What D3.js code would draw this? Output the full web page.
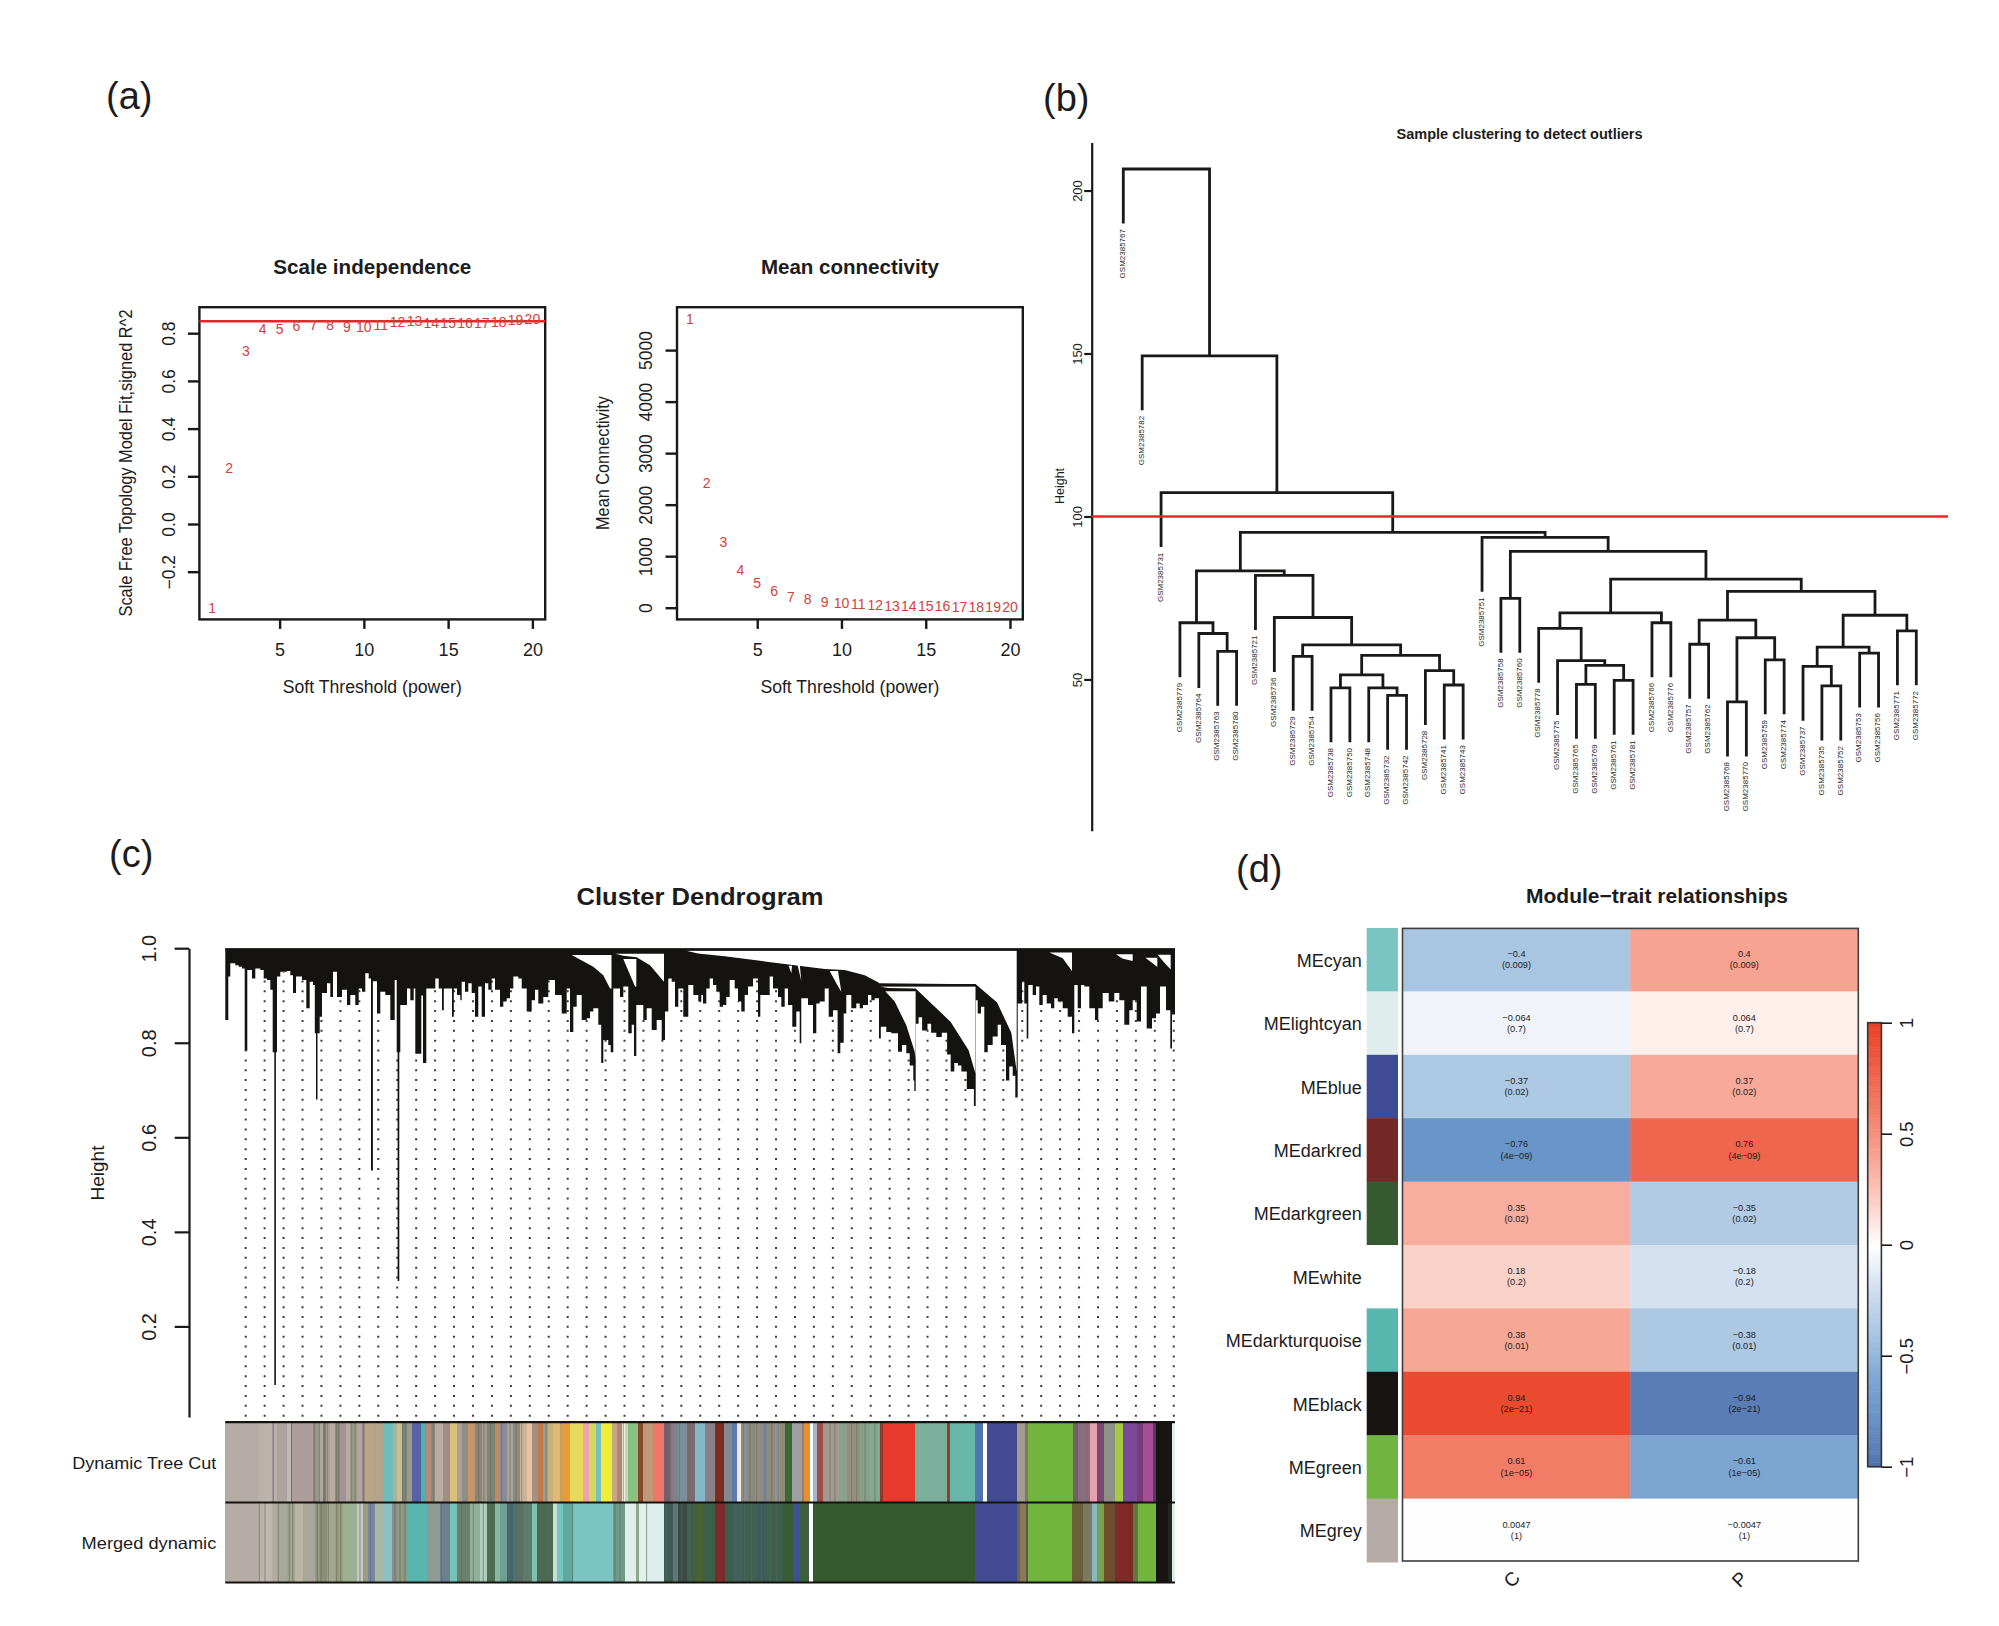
<!DOCTYPE html>
<html><head><meta charset="utf-8">
<script src="https://d3js.org/d3.v7.min.js"></script>
<style>html,body{margin:0;padding:0;background:#fff}svg{display:block}text{font-family:"Liberation Sans",Arial,sans-serif;fill:#1c1c1c}</style>
</head><body><svg id="fig" width="1999" height="1626"></svg>
<script>
// ---------- panel (a) ----------
const powers = d3.range(1, 21);
const scaleFit = [-0.351,0.233,0.725,0.818,0.816,0.831,0.833,0.833,0.825,0.827,0.833,0.849,0.853,0.844,0.845,0.844,0.844,0.848,0.855,0.858];
const meanK = [5598,2416,1271,741,471,320,210,160,118,93,76,59,42,34,25,25,17,17,8,8];
const fitCut = 0.85;
// ---------- panel (b): nested [height, left, right], leaves are sample suffixes ----------
const sampleTree = [206.6,"767",[149.3,"782",[107.3,"731",[95.1,
  [83.3,
    [67.4,"779",[64.1,"764",[58.6,"763","780"]]],
    [81.9,"721",[69,"736",[60.6,
      [57.1,"729","754"],
      [57.4,
        [51.4,[47.4,"738","750"],[47.4,"748",[45.1,"732","742"]]],
        [52.7,"728",[48.3,"741","743"]]]]]]],
  [93.6,"751",[89.3,
    [74.9,"758","760"],
    [80.8,
      [70.4,
        [65.7,"778",[55.8,"775",[54.3,[48.5,"765","769"],[49.7,"761","781"]]]],
        [67.4,"766","776"]],
      [77,
        [68.2,[60.8,"757","762"],[62.8,[43.1,"768","770"],[56,"759","774"]]],
        [69.7,
          [59.9,[54,"737",[48,"735","752"]],[58.1,"753","756"]],
          [64.9,"771","772"]]]]]]]]]];
const leafHang = 16.7;
const sampleCut = 100;
const sampleTicks = [50,100,150,200];
// ---------- panel (c): gene dendrogram outline as [gene position, lowest height] ----------
const dendroFloor = [[0,.848],[3,.94],[5,.968],[10,.964],[13.4,.961],[16.7,.957],[19.4,.783],[22,.954],[26.7,.936],[30,.957],[35,.954],[38.4,.936],[41.7,.933],[45,.912],[47.4,.78],[49,.076],[50.6,.78],[51.7,.94],[55,.95],[61.7,.952],[65,.943],[67.7,.905],[70.7,.94],[76.7,.933],[81,.873],[84.4,.929],[87.7,.922],[89.5,.82],[90.7,.68],[92.2,.82],[94.4,.855],[96.7,.905],[101.7,.926],[105,.897],[107.7,.95],[111.7,.897],[116.7,.912],[121.7,.88],[125,.901],[130,.88],[133.4,.915],[136.7,.908],[140,.947],[143.4,.936],[145.7,.53],[147.6,.93],[151.7,.862],[155,.908],[160,.901],[165,.848],[169.4,.933],[171.4,.78],[172.3,.296],[174,.78],[175,.88],[181.7,.915],[185,.89],[188.4,.915],[190,.777],[196,.9],[197.7,.757],[201,.915],[210,.936],[213.4,.915],[216.7,.869],[218.5,.915],[226.7,.855],[228.5,.915],[231.7,.901],[235,.89],[236.4,.929],[239.7,.908],[243,.926],[246.4,.905],[249.7,.855],[253,.919],[256.4,.855],[259.7,.926],[263,.912],[266.4,.936],[269.7,.912],[274.7,.876],[278,.887],[281.4,.894],[284.7,.915],[288,.94],[293,.936],[296.4,.915],[301.4,.866],[306.4,.89],[309.7,.912],[313,.883],[318,.897],[323,.933],[329.7,.901],[336.4,.862],[341.4,.915],[344.7,.823],[348,.876],[351.4,.901],[356.4,.848],[361.4,.852],[364.7,.866],[368,.873],[373,.838],[375.9,.757],[378,.806],[383,.795],[385.4,.78],[388,.915],[394.7,.897],[398,.919],[403,.82],[406.4,.838],[408.7,.772],[411,.88],[418,.848],[421.4,.873],[426.4,.827],[431.4,.848],[436.4,.806],[439.7,.866],[443,.936],[446.4,.929],[449.7,.876],[453,.915],[458,.855],[463,.922],[468,.901],[473,.887],[476,.901],[477.7,.883],[481,.915],[484.4,.936],[487.7,.922],[491,.908],[494.4,.876],[497.7,.88],[501,.897],[504.4,.933],[509.4,.915],[512.7,.887],[516,.866],[519.4,.901],[522.7,.919],[527.7,.936],[532.7,.855],[535,.901],[544.4,.94],[547.7,.915],[552.7,.897],[556,.876],[559.4,.915],[562.7,.88],[567,.834],[571,.866],[574.4,.799],[576,.894],[582.7,.88],[587.7,.82],[591,.883],[594.4,.887],[599.4,.915],[603.4,.855],[607.7,.869],[612.3,.778],[615,.8],[618.4,.862],[621,.901],[626,.873],[631,.883],[634.4,.873],[637.7,.88],[642.7,.901],[646,.89],[649.4,.894],[653.7,.809],[655.5,.834],[661,.823],[666,.82],[672.7,.781],[676.7,.795],[681,.778],[684.4,.752],[688,.72],[689,.698],
 [690.4,.84],[693.3,.854],[696.8,.826],[702.2,.84],[705.8,.821],[711,.812],[716.5,.821],[721.8,.775],[725.4,.739],[729,.757],[732.6,.752],[736.1,.739],[741.5,.702],[745,.702],[748.6,.666],
 [750.4,.89],[752.4,.862],[755.7,.876],[759,.78],[762.4,.795],[767.4,.813],[772.4,.838],[775.7,.795],[780.7,.72],[784,.75],[787.4,.73],[790,.684],
 [792.4,.883],[796.7,.929],[799,.883],[801.4,.809],[803,.922],[807.4,.901],[810.7,.919],[814,.88],[817.4,.901],[821.4,.883],[825.7,.873],[829,.894],[832.4,.887],[837.4,.873],[842.4,.855],[846.7,.82],[849,.922],[852.4,.873],[855.7,.922],[859,.919],[864,.873],[869.7,.848],[873,.873],[877.4,.905],[883.4,.887],[889,.905],[894,.89],[899,.838],[904,.869],[907.4,.89],[911.4,.845],[915.7,.919],[921.4,.83],[926.7,.852],[930.7,.862],[934.7,.919],[940.7,.869],[945,.788],[946.7,.86],[949.7,.86]];
const dendroGaps = [
 [[346.4,.9856],[386.2,.9856],[386.2,.915],[384.7,.915],[378,.943],[368,.961]],
 [[398,.977],[411,.977],[411,.919],[409.7,.919]],
 [[390,.988],[438.7,.988],[438.7,.929],[424.7,.964],[411.4,.981],[398,.984]],
 [[460,.995],[791.4,.995],[791.4,.739],[786,.821],[771.8,.885],[750.5,.924],[654,.926],[652.7,.928],[639.4,.943],[619.4,.954],[599.4,.956],[539.4,.972],[499.4,.983],[472.7,.989]],
 [[654.5,.919],[750.2,.919],[750.2,.735],[743.3,.784],[725.4,.844],[690.6,.914],[662.7,.916]],
 [[660,.909],[690.3,.909],[690.3,.766],[689.4,.781],[681,.837],[669.4,.887]],
 [[563.4,.963],[566.7,.963],[566,.947]],
 [[572,.967],[574.4,.967],[576,.93]],
 [[604.4,.952],[612.7,.952],[616,.908],[611,.926]],
 [[824,.991],[846.7,.991],[846.7,.952],[837.4,.979]],
 [[890.7,.987],[907.4,.987],[907.4,.973],[897,.978]],
 [[920,.98],[932,.98],[932,.96],[925,.972]],
 [[932.4,.986],[945.4,.986],[945.4,.955],[938,.972]]];
const dendroLinks = [[0,949.7,.997],[652,750.5,.922],[660,690.6,.912]];
const heightTicks = [.2,.4,.6,.8,1];
const guideCount = 50;
const cutEnds = [115,130,155,162,170,200,213,217,280,287,300,310,318,330,345,360,378,390,410,425,435,462,490,518,530,545,562,575,603,618,632,645,670,690,712,727,745,765,785,800,825,840,860,880,900,920,935,955,970,985,1000,1020,1030,1050,1088,1108,1128,1143,1175,1190,1205,1215,1225,1255,1270,1300,1333,1350,1365,1375,1400,1425,1455,1485,1512,1535,1550,1562,1580,1605,1625,1645,1665,1680,1695,1715,1745,1752,1770,1778,1790,1810,1860,1880,1920,1950,1980,1988,2085,2180,2190,2265,2290,2302,2390,2415,2425,2558,2575,2610,2630,2652,2685,2710,2750,2770,2798,2808,2855,2865];
const cutColors = ["#b6aca7","#b9b0aa","#bcb4ac","#a99ba6","#b9b0a6","#ada2a0","#c1b9b6","#847f7a","#ae9d9c","#8e8a99","#9a9a86","#b3a89f","#7f8270","#a8a093","#b8ac9f","#8f8c7e","#a4919a","#b8ac9f","#9c9a8a","#b5a5a2","#9a8c8a","#bca487","#b3a48c","#6dbcb9","#a9b49b","#c9bc90","#7c8a7a","#9a9a8a","#5563a4","#4fb0ad","#b48a78","#8a8a80","#b7aca0","#9e8e86","#d8c17a","#b0a094","#8e9088","#c8956b","#8a8578","#a49c8c","#7c8478","#c18a60","#8b8a98","#a6a59c","#8d8a80","#c9b496","#e8c3a0","#a48f84","#c07a50","#9aa090","#c9b080","#dfba70","#c8a060","#ee9a35","#e6d95c","#f0a2a6","#d4d860","#78bfc0","#f0ec38","#c8a884","#b08870","#f1ede0","#c0d8b0","#8cc080","#87492c","#c09a78","#ee7768","#74606c","#8a7a88","#6f8a90","#7a9098","#7b6a70","#84b8c8","#8a8088","#7d2c22","#848a90","#5b7ab0","#f0e8d8","#8c8f94","#8a8a7c","#928c80","#7f8c94","#8f8a7a","#8c9494","#908878","#3a6b35","#a0a0a0","#8d8378","#ea9030","#ffffff","#9fb8cc","#a04f48","#a09a90","#8aa090","#94907e","#86a08c","#84a890","#8c3a30","#e8392e","#7db09c","#923d38","#66b8a8","#4f75b0","#ffffff","#414a92","#a39a90","#7d7a60","#71b53e","#6c6460","#8a6e80","#e8a0b0","#7a4a74","#8f9088","#a6ca42","#7a4a9a","#7a3c70","#a64f96","#5a3a60","#181412","#dceee8"];
const mergedEnds = [115,130,155,170,200,225,250,285,300,320,345,370,412,430,445,465,490,517,530,562,620,660,690,712,750,780,800,825,840,862,880,908,935,950,1000,1010,1030,1060,1178,1215,1248,1256,1276,1333,1360,1375,1400,1425,1450,1485,1515,1540,1570,1610,1635,1690,1718,1740,1768,1778,2265,2390,2400,2418,2425,2555,2590,2615,2630,2652,2685,2738,2755,2808,2845,2855,2865];
const mergedColors = ["#b6aca7","#bab3aa","#bdb8ae","#b2ab9f","#a9a79c","#a2a68e","#bab6a6","#a9a69b","#8f9a80","#8c8d78","#a3a78c","#9aa07c","#9db094","#c8c8c8","#999c80","#7a86a8","#a9b8a2","#8cc0c4","#86908a","#8e9a84","#57b7ae","#8f9a94","#6e8090","#74c4bc","#6c8070","#90b09c","#b0ccbc","#4c6c54","#87b8a4","#70a090","#3f6870","#587068","#5f7a68","#7cc0b0","#4a6a54","#c8e0d4","#74c4c0","#5fa8a0","#7bc4c4","#6e9a88","#dff0ec","#8ea88e","#e4f0ec","#dceeec","#3e5c52","#60757c","#3a4a44","#3e5f4e","#49622f","#3c5f48","#7d2c2a","#3a5f4e","#44605c","#3f6050","#3d5a58","#3c6050","#3a5c32","#3f4f90","#3a6040","#ffffff","#365a30","#414a92","#6c6450","#8a7a5c","#5a5a40","#71b53e","#6a5f38","#7a7a60","#8ab8c0","#77a050","#6e4f2c","#7f2a28","#5f7a3a","#71b53e","#181412","#1e2820","#e0f0e0"];
// thin stripes that sit over the runs above
const cutHairlines = [160,215,283,298,312,322,350,356,395,405,430,548,556,640,776,792,812,845,870,888,905,978,1210,1352,1378,1408,1570,1590,1610,1635,1655,1675,1830,1845,1895,1910,1935,1965,2600];
const mergedHairlines = [118,135,175,208,218,292,303,325,350,362,420,452,525,540,555,665,725,760,790,815,870,892,960,985,1058,1185,1200,1280,1340,1385,1410,1575,1595,1625,1650,1670];

// ---------- panel (d) ----------
const modules = ["MEcyan","MElightcyan","MEblue","MEdarkred","MEdarkgreen","MEwhite","MEdarkturquoise","MEblack","MEgreen","MEgrey"];
const moduleColors = ["#7bc4c4","#dfeeec","#3f4c95","#732826","#365a30","#ffffff","#57b7ae","#181412","#6fb53f","#b6aca7"];
const traits = ["C","P"];
const corrC = [-0.4,-0.064,-0.37,-0.76,0.35,0.18,0.38,0.94,0.61,0.0047];
const corrP = [0.4,0.064,0.37,0.76,-0.35,-0.18,-0.38,-0.94,-0.61,-0.0047];
const pvals = ["0.009","0.7","0.02","4e\u221209","0.02","0.2","0.01","2e\u221221","1e\u221205","1"];
const heatStops = [-1,-0.94,-0.76,-0.61,-0.4,-0.18,0,0.18,0.4,0.61,0.76,0.94,1];
const heatColors = ["#4f70ae","#5a7db5","#6a95c8","#7ca5d2","#a8c5e2","#d4e1f1","#ffffff","#fbd2c8","#f7a391","#f17d66","#f0654d","#eb4a31","#e83f28"];
const barTicks = [-1,-0.5,0,0.5,1];

const svg = d3.select("#fig");
const label = (t,x,y,o={})=>{
  const e = svg.append("text").text(t).attr("x",x).attr("y",y)
    .attr("font-size",o.size||16).attr("text-anchor",o.anchor||"middle");
  if(o.bold) e.attr("font-weight","bold");
  if(o.len) e.attr("textLength",o.len).attr("lengthAdjust","spacingAndGlyphs");
  if(o.rot!=null) e.attr("transform",`rotate(${o.rot},${x},${y})`);
  return e;
};
const ink="#1b1918";
function styleAxis(g,w,rotBase,size){
  g.selectAll("path.domain").attr("stroke",ink).attr("stroke-width",w);
  g.selectAll(".tick line").attr("stroke",ink).attr("stroke-width",w);
  g.selectAll("text").attr("font-size",size).attr("font-family",null).style("fill","#1c1c1c");
  if(rotBase!=null) g.selectAll("text").attr("x",0).attr("y",rotBase).attr("dy",0)
    .attr("text-anchor","middle").attr("transform","rotate(-90)");
}
// panel letters
[["(a)",106,109],["(b)",1043,111],["(c)",109,867],["(d)",1236,882]].forEach(d=>label(d[0],d[1],d[2],{size:38,anchor:"start"}));

// ---- (a)
function softPanel(cfg){
  const x=d3.scaleLinear().domain([0.24,20.76]).range([cfg.l,cfg.r]);
  const y=d3.scaleLinear().domain(cfg.yDom).range(cfg.yRange);
  const top=307.2,bot=619.4;
  svg.append("rect").attr("x",cfg.l).attr("y",top).attr("width",cfg.r-cfg.l).attr("height",bot-top).attr("fill","none").attr("stroke",ink).attr("stroke-width",2.4);
  const gx=svg.append("g").attr("transform",`translate(0,${bot})`).call(d3.axisBottom(x).tickValues([5,10,15,20]).tickSizeOuter(0).tickSize(9.5).tickPadding(14));
  gx.select("path.domain").remove(); styleAxis(gx,2.4,null,18);
  const gy=svg.append("g").attr("transform",`translate(${cfg.l},0)`).call(d3.axisLeft(y).tickValues(cfg.ticks).tickSize(11.5).tickFormat(cfg.fmt));
  gy.select("path.domain").remove(); styleAxis(gy,2.4,cfg.base,17.5);
  if(cfg.line!=null) svg.append("line").attr("x1",cfg.l).attr("x2",cfg.r).attr("y1",y(cfg.line)).attr("y2",y(cfg.line)).attr("stroke","#e8262a").attr("stroke-width",2.6);
  svg.append("g").selectAll("text").data(powers).join("text").text(d=>d)
    .attr("x",d=>x(d)).attr("y",(d,i)=>y(cfg.vals[i])).attr("dy",".36em").attr("text-anchor","middle")
    .attr("font-size",14).style("fill","#d4403a");
  label(cfg.title,(cfg.l+cfg.r)/2,274,{size:20.5,bold:true,len:cfg.titleLen});
  label("Soft Threshold (power)",(cfg.l+cfg.r)/2,693,{size:17.5,len:179});
  label(cfg.ylab,cfg.ylabX,463,{size:18,len:cfg.ylabLen,rot:-90});
}
softPanel({l:199.4,r:545.2,yDom:[-0.2,0.8],yRange:[571.7,333.2],ticks:[-0.2,0,0.2,0.4,0.6,0.8],fmt:d3.format(".1f"),vals:scaleFit,line:fitCut,base:-24.4,title:"Scale independence",titleLen:198,ylab:"Scale Free Topology Model Fit,signed R^2",ylabX:132,ylabLen:307});
softPanel({l:677,r:1022.8,yDom:[0,5000],yRange:[607.7,350.1],ticks:[0,1000,2000,3000,4000,5000],fmt:d3.format("d"),vals:meanK,line:null,base:-25,title:"Mean connectivity",titleLen:178,ylab:"Mean Connectivity",ylabX:609,ylabLen:134});

// ---- (b)
(function(){
  const root=d3.hierarchy(sampleTree,d=>Array.isArray(d)?d.slice(1):null);
  const leaves=root.leaves();
  const x=d3.scaleLinear().domain([0,leaves.length-1]).range([1123.3,1916.3]);
  const y=d3.scaleLinear().domain([3.6,214.7]).range([830.7,142.6]);
  leaves.forEach((l,i)=>l.px=x(i));
  root.eachAfter(n=>{ if(n.children) n.px=(n.children[0].px+n.children[1].px)/2; });
  const H=n=>n.children?n.data[0]:n.parent.data[0]-leafHang;
  const path=d3.path();
  root.descendants().filter(n=>n.children).forEach(n=>{
    const [a,b]=n.children, yy=y(n.data[0]);
    path.moveTo(a.px,y(H(a)));path.lineTo(a.px,yy);path.lineTo(b.px,yy);path.lineTo(b.px,y(H(b)));
  });
  svg.append("path").attr("d",path.toString()).attr("fill","none").attr("stroke",ink).attr("stroke-width",2.8);
  svg.append("g").selectAll("text").data(leaves).join("text").text(d=>"GSM2385"+d.data)
    .attr("transform",d=>`translate(${d.px-1},${y(H(d))+5.6}) rotate(-90)`)
    .attr("dy",".34em").attr("text-anchor","end").attr("font-size",8).style("fill","#262626");
  const g=svg.append("g").attr("transform","translate(1091.7,0)").call(d3.axisLeft(y).tickValues(sampleTicks).tickSize(7.5).tickSizeOuter(0));
  styleAxis(g,2.2,-9.7,13);
  svg.append("line").attr("x1",1091.7).attr("x2",1948).attr("y1",y(sampleCut)).attr("y2",y(sampleCut)).attr("stroke","#e8262a").attr("stroke-width",2.4);
  label("Height",1064,486,{size:12.5,rot:-90});
  label("Sample clustering to detect outliers",1519.5,139,{size:14,bold:true,len:246});
})();

// ---- (c)
(function(){
  const x=d3.scaleLinear().domain([0,949.7]).range([225.3,1175]);
  const y=d3.scaleLinear().domain([0.0086,1]).range([1416.9,948.2]);
  const floorAt=u=>dendroFloor[Math.max(0,d3.bisector(d=>d[0]).right(dendroFloor,u)-1)][1];
  // guide dots
  const cols=d3.range(guideCount).map(i=>20.4+i*18.94);
  svg.append("g").selectAll("line").data(cols).join("line")
    .attr("x1",x).attr("x2",x).attr("y1",1416.7).attr("y2",u=>y(floorAt(u)))
    .attr("stroke","#3a3a3a").attr("stroke-width",2).attr("stroke-dasharray","2 7.87");
  const area=d3.area().curve(d3.curveStepAfter).x(d=>x(d[0])).y0(y(1)).y1(d=>y(d[1]));
  svg.append("path").attr("d",area(dendroFloor)).attr("fill","#151311");
  const poly=d3.line().x(d=>x(d[0])).y(d=>y(d[1]));
  svg.append("g").selectAll("path").data(dendroGaps).join("path").attr("d",d=>poly(d)+"Z").attr("fill","#fff");
  svg.append("g").selectAll("line").data(dendroLinks).join("line")
    .attr("x1",d=>x(d[0])).attr("x2",d=>x(d[1])).attr("y1",d=>y(d[2])).attr("y2",d=>y(d[2]))
    .attr("stroke","#151311").attr("stroke-width",2.2);
  const g=svg.append("g").attr("transform","translate(189,0)").call(d3.axisLeft(y).tickValues(heightTicks).tickSize(14.3).tickSizeOuter(0).tickFormat(d3.format(".1f")));
  styleAxis(g,2.2,-32.7,20);
  // colour strips
  const s=d3.scaleLinear().domain([16,2865]).range([225.3,1175]);
  const strip=(ends,cols,y0,y1,hair,hairCol)=>{
    svg.append("g").attr("shape-rendering","crispEdges").selectAll("rect").data(ends).join("rect")
      .attr("x",(d,i)=>s(i?ends[i-1]:16)).attr("width",(d,i)=>s(d)-s(i?ends[i-1]:16)+.4)
      .attr("y",y0).attr("height",y1-y0).attr("fill",(d,i)=>cols[i]);
    svg.append("g").selectAll("line").data(hair).join("line")
      .attr("x1",s).attr("x2",s).attr("y1",y0).attr("y2",y1)
      .attr("stroke",hairCol).attr("stroke-opacity",.55).attr("stroke-width",1.1);
  };
  strip(cutEnds,cutColors,1422.7,1502,cutHairlines,"#6e6a60");
  strip(mergedEnds,mergedColors,1502.5,1582,mergedHairlines,"#5f6a58");
  [1422.2,1502.5,1582.5].forEach(v=>svg.append("line").attr("x1",225.3).attr("x2",1175).attr("y1",v).attr("y2",v).attr("stroke","#151311").attr("stroke-width",2.2));
  label("Dynamic Tree Cut",216.3,1469,{size:16.5,anchor:"end",len:144});
  label("Merged dynamic",216.3,1549,{size:16.5,anchor:"end",len:134.7});
  label("Height",104,1173,{size:19,rot:-90});
  label("Cluster Dendrogram",700,905,{size:24,bold:true,len:247});
})();

// ---- (d)
(function(){
  const heat=d3.scaleLinear().domain(heatStops).range(heatColors).clamp(true);
  const rows=d3.scaleBand().domain(modules).range([928,1562]);
  const cols=d3.scaleBand().domain(traits).range([1402.5,1858.3]);
  const corr={C:corrC,P:corrP};
  svg.append("g").selectAll("rect").data(modules).join("rect")
    .attr("x",1366.7).attr("width",31.3).attr("y",d=>rows(d)).attr("height",rows.bandwidth()+.5).attr("fill",(d,i)=>moduleColors[i]);
  traits.forEach(t=>{
    const g=svg.append("g");
    g.selectAll("rect").data(modules).join("rect").attr("x",cols(t)).attr("width",cols.bandwidth()+.4)
      .attr("y",d=>rows(d)).attr("height",rows.bandwidth()+.5).attr("fill",(d,i)=>heat(corr[t][i]));
    const fmt=v=>String(v).replace("-","\u2212");
    g.selectAll("text.a").data(modules).join("text").attr("class","a").text((d,i)=>fmt(corr[t][i]))
      .attr("x",cols(t)+cols.bandwidth()/2).attr("y",d=>rows(d)+rows.bandwidth()/2-2.5)
      .attr("text-anchor","middle").attr("font-size",9.2);
    g.selectAll("text.b").data(modules).join("text").attr("class","b").text((d,i)=>"("+pvals[i]+")")
      .attr("x",cols(t)+cols.bandwidth()/2).attr("y",d=>rows(d)+rows.bandwidth()/2+8.7)
      .attr("text-anchor","middle").attr("font-size",9.2);
    label(t,cols(t)+cols.bandwidth()/2,1584,{size:19,rot:-45});
  });
  svg.append("rect").attr("x",1402.5).attr("y",928.4).attr("width",455.8).attr("height",632.6).attr("fill","none").attr("stroke","#3e3e3e").attr("stroke-width",1.6);
  svg.append("g").selectAll("text").data(modules).join("text").text(d=>d)
    .attr("x",1361.8).attr("y",d=>rows(d)+rows.bandwidth()/2+7).attr("text-anchor","end").attr("font-size",18);
  label("Module\u2212trait relationships",1657,903,{size:20,bold:true,len:262});
  // colour bar
  const yb=d3.scaleLinear().domain([-1,1]).range([1466.7,1022.7]);
  const steps=d3.range(-1,1,0.01);
  svg.append("g").selectAll("rect").data(steps).join("rect").attr("x",1867.7).attr("width",13.7)
    .attr("y",d=>yb(d+0.01)).attr("height",Math.abs(yb(0)-yb(0.01))+.5).attr("fill",d=>heat(d+0.005));
  svg.append("rect").attr("x",1867.7).attr("y",1022.7).attr("width",13.7).attr("height",444).attr("fill","none").attr("stroke","#333").attr("stroke-width",1.6);
  const g=svg.append("g").attr("transform","translate(1881.4,0)").call(d3.axisRight(yb).tickValues(barTicks).tickSize(10.6).tickSizeOuter(0).tickFormat(d3.format("~g")));
  g.select("path.domain").remove();
  styleAxis(g,1.6,31.6,18.5);
})();
</script></body></html>
